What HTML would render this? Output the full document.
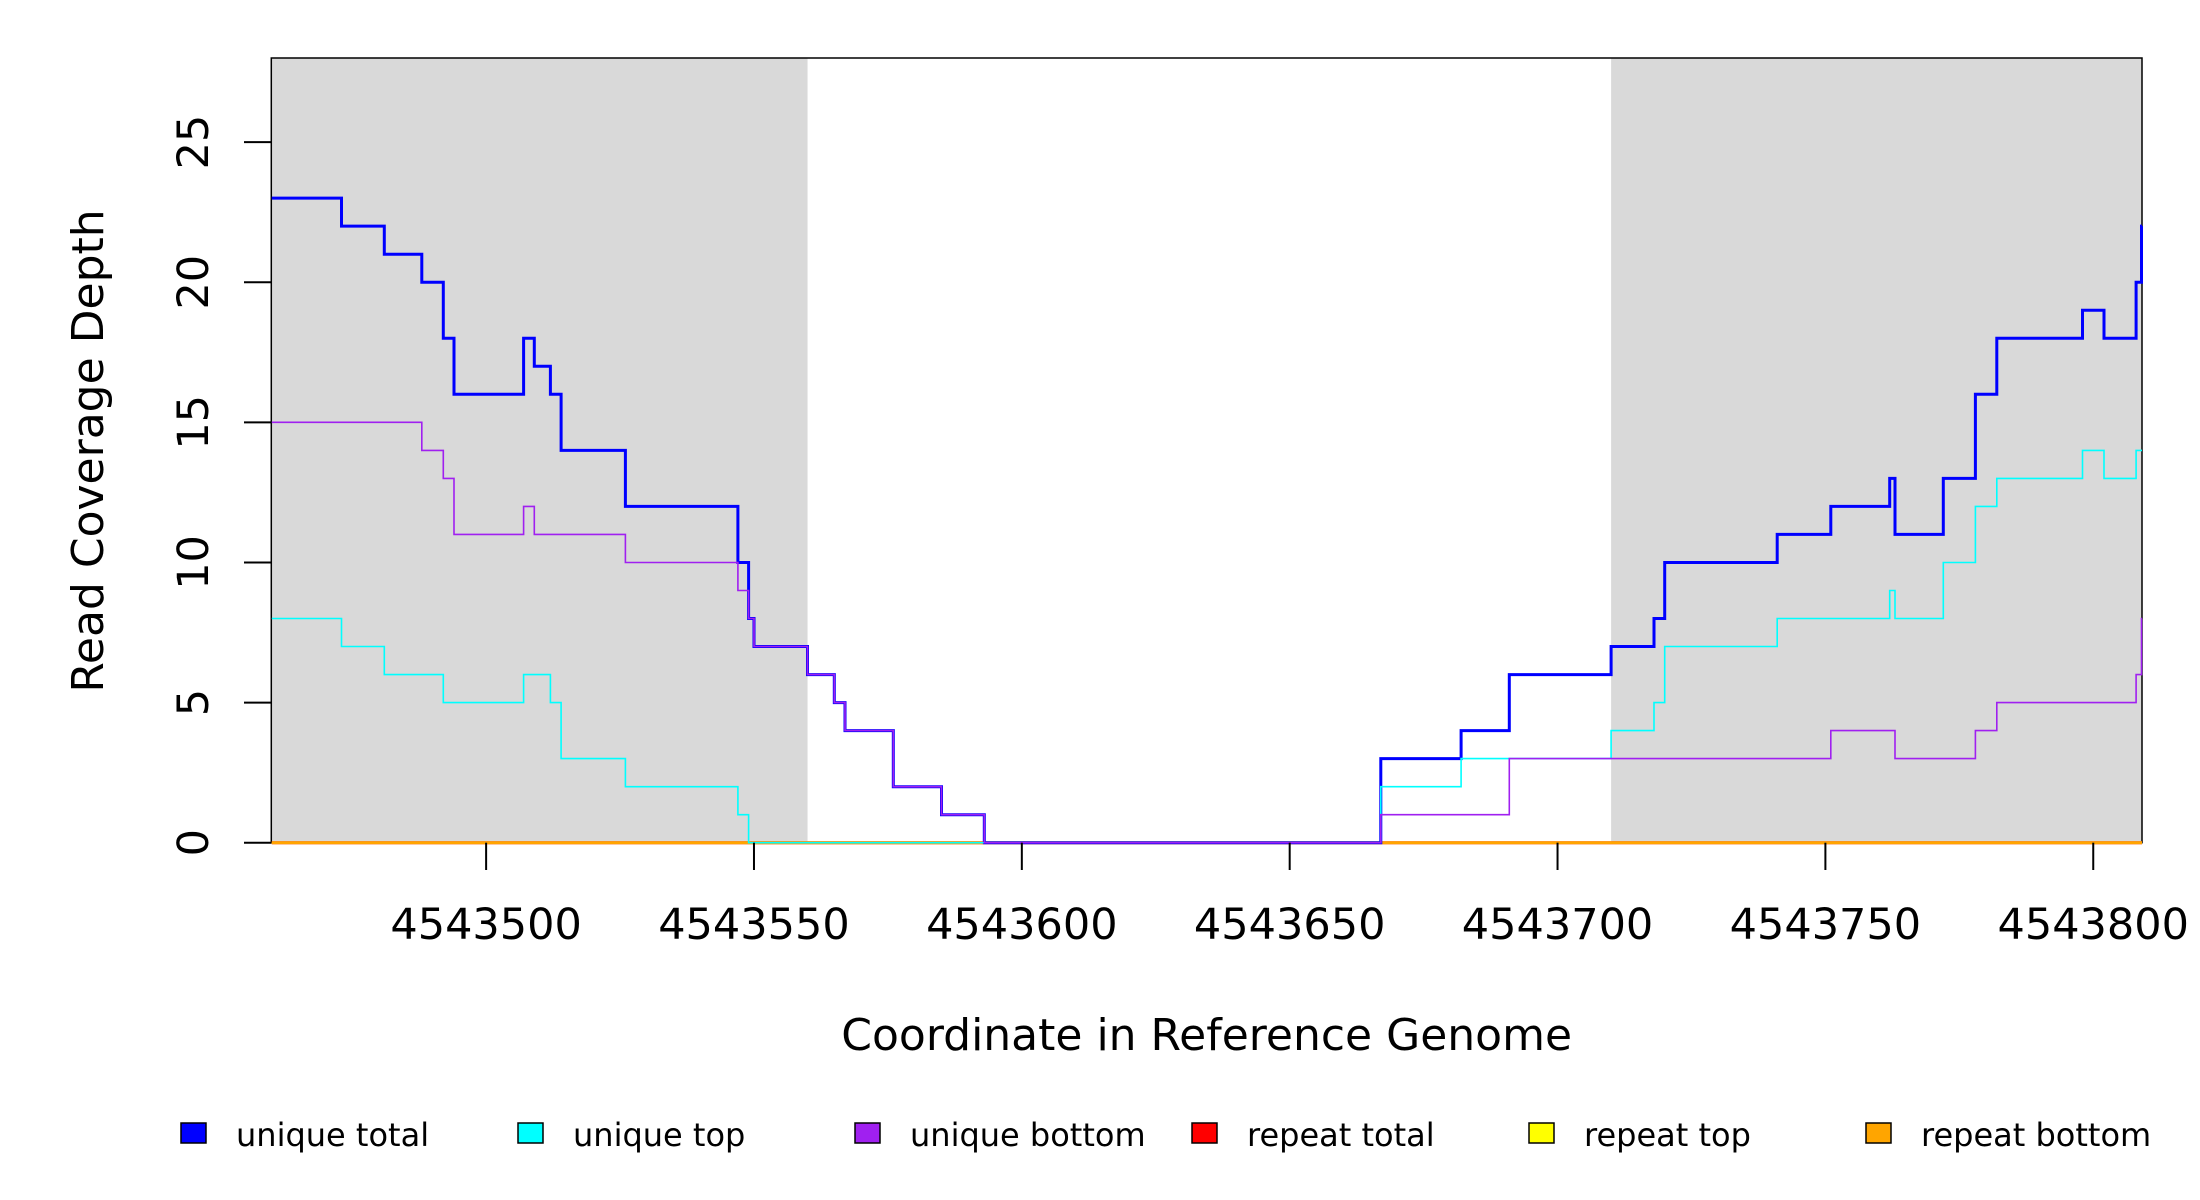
<!DOCTYPE html>
<html><head><meta charset="utf-8">
<style>
html,body{margin:0;padding:0;background:#fff;}
svg{display:block;font-family:"DejaVu Sans","Liberation Sans",sans-serif;}
</style></head>
<body>
<svg id="chart" width="2200" height="1200" viewBox="0 0 2200 1200" xmlns="http://www.w3.org/2000/svg">
<rect width="2200" height="1200" fill="#fff"/>
<g id="plot"></g>
</svg>
<script>
// ---- data ----
const xTicks = [4543500,4543550,4543600,4543650,4543700,4543750,4543800];
const yTicks = [0,5,10,15,20,25];
const shadeRegions = [[4543460,4543560],[4543710,4543809]];
const totalX = [4543460,4543473,4543481,4543488,4543492,4543494,4543507,4543509,4543512,4543514,4543526,4543547,4543549,4543550,4543560,4543565,4543567,4543576,4543585,4543593,4543667,4543682,4543691,4543710,4543718,4543720,4543741,4543751,4543762,4543763,4543772,4543778,4543782,4543798,4543802,4543808,4543809];
const totalY = [23,22,21,20,18,16,18,17,16,14,12,10,8,7,6,5,4,2,1,0,3,4,6,7,8,10,11,12,13,11,13,16,18,19,18,20,22];
const topX = [4543460,4543473,4543481,4543492,4543507,4543512,4543514,4543526,4543547,4543549,4543667,4543682,4543710,4543718,4543720,4543741,4543762,4543763,4543772,4543778,4543782,4543798,4543802,4543808];
const topY = [8,7,6,5,6,5,3,2,1,0,2,3,4,5,7,8,9,8,10,12,13,14,13,14];
const botX = [4543460,4543488,4543492,4543494,4543507,4543509,4543526,4543547,4543549,4543550,4543560,4543565,4543567,4543576,4543585,4543593,4543667,4543691,4543751,4543763,4543778,4543782,4543808,4543809];
const botY = [15,14,13,11,12,11,10,9,8,7,6,5,4,2,1,0,1,3,4,3,4,5,6,8];
const repeatX = [4543460,4543809];
const repeatY = [0,0];
const legendLabels = ["unique total","unique top","unique bottom","repeat total","repeat top","repeat bottom"];
const legendColors = ["#0000ff","#00ffff","#a020f0","#ff0000","#ffff00","#ffa500"];

// ---- axes ----
const L=271.3,R=2142,T=58,B=842.7;
const XMIN=4543459.9,XMAX=4543809.1,YMIN=0,YMAX=28;
const sx=v=>L+(v-XMIN)/(XMAX-XMIN)*(R-L);
const sy=v=>B-(v-YMIN)/(YMAX-YMIN)*(B-T);
const NS="http://www.w3.org/2000/svg";
const g=document.getElementById('plot');
function mk(tag,attrs,parent){const e=document.createElementNS(NS,tag);for(const k in attrs)e.setAttribute(k,attrs[k]);(parent||g).appendChild(e);return e;}

shadeRegions.forEach(r=>{
  const e=mk('rect',{x:sx(r[0]),y:T,width:Math.min(sx(r[1]),R)-sx(r[0]),height:B-T,fill:'#d9d9d9'});
  
  
});

const frame=mk('rect',{x:L,y:T,width:R-L,height:B-T,fill:'none',stroke:'#000','stroke-width':1.5});



function stepPath(xs,ys){
  let d='';
  for(let i=0;i<xs.length;i++){
    const x0=sx(xs[i]);const x1=sx(i+1<xs.length?xs[i+1]:XMAX);const y=sy(ys[i]);
    d+=(i===0?'M':'L')+x0.toFixed(1)+','+y.toFixed(1)+'L'+x1.toFixed(1)+','+y.toFixed(1);
  }
  return d;
}
function series(xs,ys,color,w,name){
  const e=mk('path',{d:stepPath(xs,ys),fill:'none',stroke:color,'stroke-width':w});
  
  
}
series(repeatX,repeatY,'#ff0000',3,'repeat-total-line');
series(repeatX,repeatY,'#ffff00',1.5,'repeat-top-line');
series(repeatX,repeatY,'#ffa500',3,'repeat-bottom-line');
series(totalX,totalY,'#0000ff',3,'unique-total-line');
series(topX,topY,'#00ffff',1.6,'unique-top-line');
series(botX,botY,'#a020f0',1.6,'unique-bottom-line');

xTicks.forEach(v=>{
  const x=sx(v);
  const t=mk('line',{x1:x,x2:x,y1:B,y2:870,stroke:'#000','stroke-width':2});
  
  
  const l=mk('text',{x:x,y:939,'font-size':43,'text-anchor':'middle',fill:'#000'});
  l.textContent=v;
  
  
});
yTicks.forEach(v=>{
  const y=sy(v);
  const t=mk('line',{x1:244,x2:L,y1:y,y2:y,stroke:'#000','stroke-width':2});
  
  
  const l=mk('text',{x:0,y:0,'font-size':43,'text-anchor':'middle',fill:'#000',transform:'translate(208,'+y+') rotate(-90)'});
  l.textContent=v;
  
  
});
const yt=mk('text',{x:0,y:0,'font-size':44,'text-anchor':'middle',fill:'#000',transform:'translate(103,451) rotate(-90)'});
yt.textContent='Read Coverage Depth';


const xt=mk('text',{x:(L+R)/2,y:1050,'font-size':44,'text-anchor':'middle',fill:'#000'});
xt.textContent='Coordinate in Reference Genome';



legendLabels.forEach((lab,i)=>{
  const bx=181+i*337;
  const grp=mk('g',{});
  
  
  mk('rect',{x:bx,y:1123,width:25,height:20,fill:legendColors[i],stroke:'#000','stroke-width':1.5},grp);
  const t=mk('text',{x:bx+55,y:1146,'font-size':32,fill:'#000'},grp);
  t.textContent=lab;
});
</script>
</body></html>
